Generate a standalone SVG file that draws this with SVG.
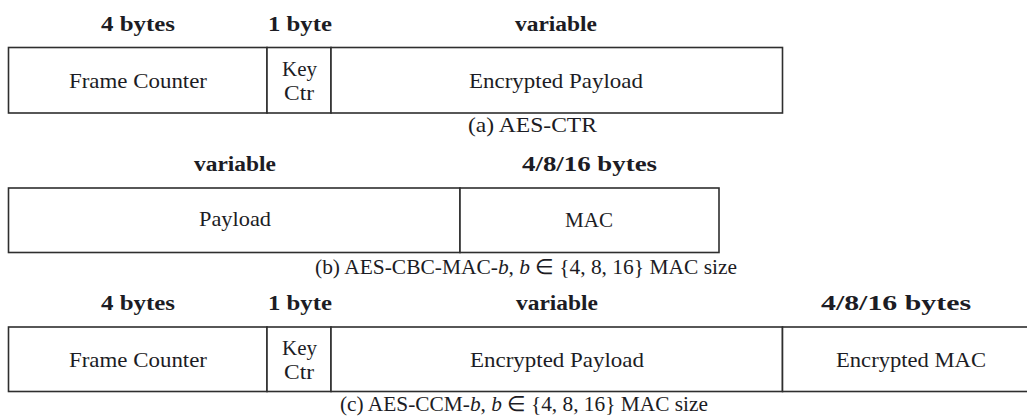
<svg xmlns="http://www.w3.org/2000/svg" width="1027" height="419" viewBox="0 0 1027 419">
<style>
.cell{fill:#fff;stroke:#2e2e2e;stroke-width:1.6}
text{font-family:"Liberation Serif","Times New Roman",serif;font-size:21px;fill:#1c1c24;text-anchor:middle}
.hd{font-weight:bold;font-size:20.5px}
.it{font-style:italic}
</style>
<rect width="1027" height="419" fill="#fff"/>
<g id="frame-a">
  <g id="a-frame-counter"><rect class="cell" x="8.5" y="47.5" width="258.5" height="65.5"/><text x="138" y="88" textLength="138" lengthAdjust="spacingAndGlyphs">Frame Counter</text></g>
  <g id="a-key-ctr"><rect class="cell" x="267" y="47.5" width="64" height="65.5"/><text x="299.5" y="76" textLength="35" lengthAdjust="spacingAndGlyphs">Key</text><text x="299" y="100" textLength="30" lengthAdjust="spacingAndGlyphs">Ctr</text></g>
  <g id="a-enc-payload"><rect class="cell" x="331" y="47.5" width="451.5" height="65.5"/><text x="556" y="88" textLength="174" lengthAdjust="spacingAndGlyphs">Encrypted Payload</text></g>
  <text class="hd" x="138" y="31" textLength="74" lengthAdjust="spacingAndGlyphs">4 bytes</text>
  <text class="hd" x="300" y="31" textLength="64" lengthAdjust="spacingAndGlyphs">1 byte</text>
  <text class="hd" x="556" y="31" textLength="82" lengthAdjust="spacingAndGlyphs">variable</text>
  <text x="532.5" y="132" textLength="129" lengthAdjust="spacingAndGlyphs">(a) AES-CTR</text>
</g>
<g id="frame-b">
  <g id="b-payload"><rect class="cell" x="8.5" y="188" width="451.5" height="64.5"/><text x="235" y="226" textLength="72" lengthAdjust="spacingAndGlyphs">Payload</text></g>
  <g id="b-mac"><rect class="cell" x="460" y="188" width="259" height="64.5"/><text x="589" y="227" textLength="48" lengthAdjust="spacingAndGlyphs">MAC</text></g>
  <text class="hd" x="235" y="171" textLength="82" lengthAdjust="spacingAndGlyphs">variable</text>
  <text class="hd" x="589.5" y="171" textLength="135" lengthAdjust="spacingAndGlyphs">4/8/16 bytes</text>
  <text x="526" y="274" textLength="422" lengthAdjust="spacingAndGlyphs">(b) AES-CBC-MAC-<tspan class="it">b</tspan>, <tspan class="it">b</tspan> ∈ {4, 8, 16} MAC size</text>
</g>
<g id="frame-c">
  <g id="c-frame-counter"><rect class="cell" x="8.5" y="327" width="258.5" height="64.5"/><text x="138" y="367" textLength="138" lengthAdjust="spacingAndGlyphs">Frame Counter</text></g>
  <g id="c-key-ctr"><rect class="cell" x="267" y="327" width="64" height="64.5"/><text x="299.5" y="355" textLength="35" lengthAdjust="spacingAndGlyphs">Key</text><text x="299" y="379" textLength="30" lengthAdjust="spacingAndGlyphs">Ctr</text></g>
  <g id="c-enc-payload"><rect class="cell" x="331" y="327" width="451.5" height="64.5"/><text x="557" y="367" textLength="174" lengthAdjust="spacingAndGlyphs">Encrypted Payload</text></g>
  <g id="c-enc-mac"><rect class="cell" x="782.5" y="327" width="258" height="64.5"/><text x="911" y="367" textLength="150" lengthAdjust="spacingAndGlyphs">Encrypted MAC</text></g>
  <text class="hd" x="138" y="309.5" textLength="74" lengthAdjust="spacingAndGlyphs">4 bytes</text>
  <text class="hd" x="300" y="309.5" textLength="64" lengthAdjust="spacingAndGlyphs">1 byte</text>
  <text class="hd" x="557" y="309.5" textLength="82" lengthAdjust="spacingAndGlyphs">variable</text>
  <text class="hd" x="896" y="309.5" textLength="150" lengthAdjust="spacingAndGlyphs">4/8/16 bytes</text>
  <text x="524" y="411" textLength="368" lengthAdjust="spacingAndGlyphs">(c) AES-CCM-<tspan class="it">b</tspan>, <tspan class="it">b</tspan> ∈ {4, 8, 16} MAC size</text>
</g>
</svg>
